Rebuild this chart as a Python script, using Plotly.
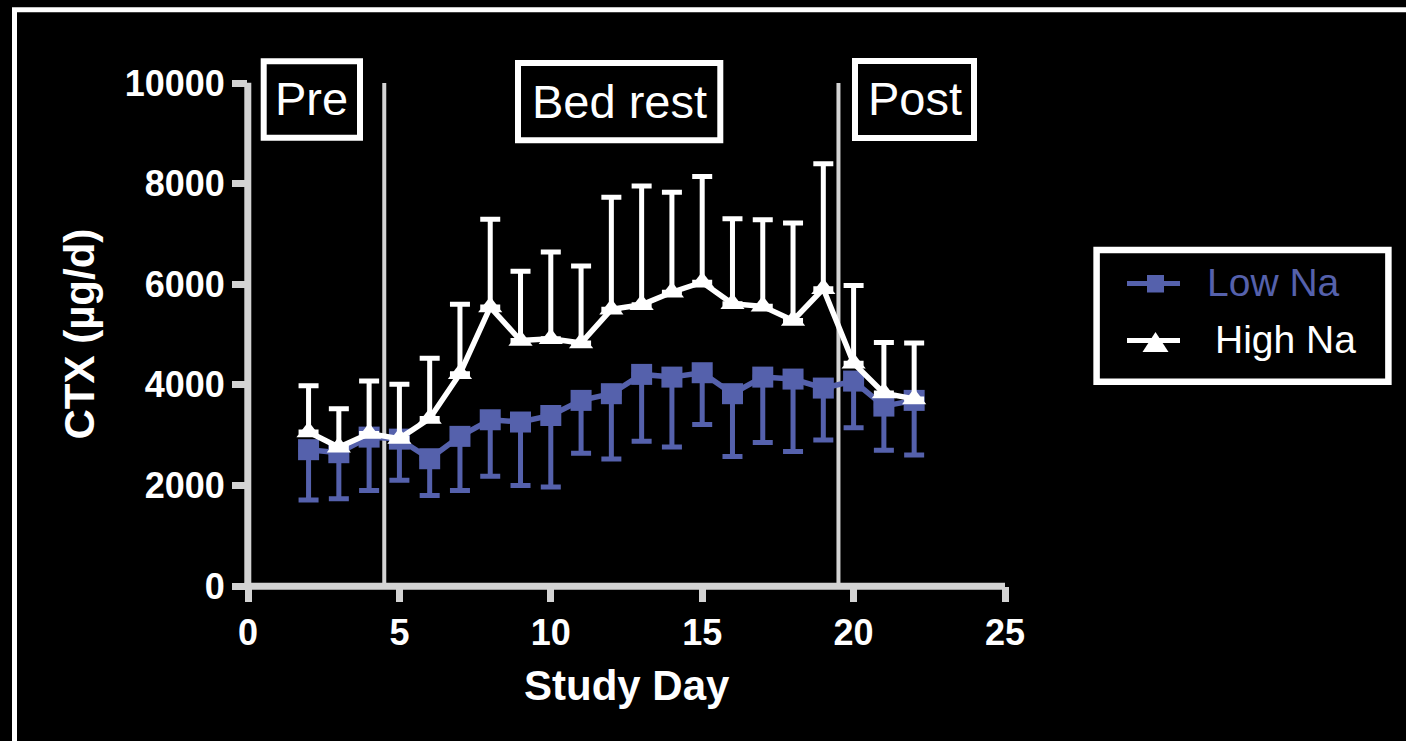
import plotly.graph_objects as go

# ---- data -------------------------------------------------------------
days = list(range(2, 23))

low_na_mean = [2710, 2650, 2960, 2920, 2530, 2975, 3305, 3260, 3390, 3690, 3823,
               4207, 4153, 4240, 3823, 4153, 4114, 3935, 4074, 3577, 3690]
low_na_sd = [1000, 915, 1060, 820, 730, 1075, 1125, 1260, 1420, 1050, 1300,
             1330, 1390, 1030, 1250, 1300, 1440, 1030, 930, 880, 1087]

high_na_mean = [3060, 2760, 3030, 2930, 3330, 4220, 5545, 4880, 4915, 4830, 5500,
                5590, 5840, 6040, 5610, 5560, 5280, 5910, 4430, 3835, 3720]
high_na_sd = [920, 765, 1045, 1080, 1200, 1380, 1745, 1375, 1725, 1530, 2230,
              2360, 1990, 2100, 1690, 1720, 1935, 2485, 1545, 1005, 1110]

x_ticks = [0, 5, 10, 15, 20, 25]
y_ticks = [0, 2000, 4000, 6000, 8000, 10000]
y_tick_labels = ["0", "2000", "4000", "6000", "8000", "10000"]
phase_bounds = [4.5, 19.5]
phase_labels = ["Pre", "Bed rest", "Post"]
series_names = ["Low Na", "High Na"]

# ---- style ------------------------------------------------------------
BLUE = "#5561AC"
WHITE = "#FFFFFF"
AXIS = "#D3D3D3"
FONT = "Liberation Sans"

W, H = 1406, 741
L, R, T, B = 248, 401, 83, 155
PW, PH = W - L - R, H - T - B


def px_x(px):
    return (px - L) / PW


def px_y(py):
    return (H - B - py) / PH


fig = go.Figure()

fig.add_trace(go.Scatter(
    x=days, y=low_na_mean, mode="lines+markers", name=series_names[0],
    line=dict(color=BLUE, width=5.5),
    marker=dict(symbol="square", size=21, color=BLUE, line=dict(width=0)),
    error_y=dict(type="data", symmetric=False, array=[0] * len(days),
                 arrayminus=low_na_sd, color=BLUE, thickness=5, width=10),
    showlegend=False, cliponaxis=False,
))
fig.add_trace(go.Scatter(
    x=days, y=high_na_mean, mode="lines+markers", name=series_names[1],
    line=dict(color=WHITE, width=5.5),
    marker=dict(symbol="triangle-up", size=21, color=WHITE, line=dict(width=0)),
    error_y=dict(type="data", symmetric=False, array=high_na_sd,
                 arrayminus=[0] * len(days), color=WHITE, thickness=5, width=10),
    showlegend=False, cliponaxis=False,
))

shapes = []
annotations = []

# outer frame
shapes.append(dict(type="rect", xref="paper", yref="paper",
                   x0=px_x(14.5), x1=px_x(1440), y0=px_y(9.8), y1=px_y(780),
                   line=dict(color=WHITE, width=5), layer="below"))

# axis lines
shapes.append(dict(type="line", xref="paper", yref="paper",
                   x0=px_x(244.3), x1=px_x(1005), y0=px_y(586.3), y1=px_y(586.3),
                   line=dict(color=AXIS, width=7), layer="below"))
shapes.append(dict(type="line", xref="paper", yref="paper",
                   x0=px_x(247.8), x1=px_x(247.8), y0=px_y(589.8), y1=px_y(82.7),
                   line=dict(color=AXIS, width=7), layer="below"))

# phase boundaries
for xb in phase_bounds:
    shapes.append(dict(type="line", xref="x", yref="y", x0=xb, x1=xb,
                       y0=0, y1=y_ticks[-1], line=dict(color=AXIS, width=4),
                       layer="below"))

# phase label boxes (left, top, right, bottom in px, line centres)
phase_boxes = [(263.7, 61.3, 360.0, 137.7),
               (518.0, 63.0, 720.3, 140.3),
               (855.0, 61.0, 974.0, 138.0)]
phase_text_y = [99.0, 101.0, 99.0]
for label, (x0, y0, x1, y1), ty in zip(phase_labels, phase_boxes, phase_text_y):
    shapes.append(dict(type="rect", xref="paper", yref="paper",
                       x0=px_x(x0), x1=px_x(x1), y0=px_y(y0), y1=px_y(y1),
                       line=dict(color=WHITE, width=6)))
    annotations.append(dict(text=label, xref="paper", yref="paper",
                            x=px_x((x0 + x1) / 2), y=px_y(ty),
                            xanchor="center", yanchor="middle", showarrow=False,
                            font=dict(family=FONT, size=47, color=WHITE)))

# legend box
shapes.append(dict(type="rect", xref="paper", yref="paper",
                   x0=px_x(1096.6), x1=px_x(1388.4), y0=px_y(250.0), y1=px_y(381.7),
                   line=dict(color=WHITE, width=6.5)))
# legend row 1: Low Na
shapes.append(dict(type="line", xref="paper", yref="paper",
                   x0=px_x(1127), x1=px_x(1180), y0=px_y(283.5), y1=px_y(283.5),
                   line=dict(color=BLUE, width=5)))
shapes.append(dict(type="rect", xref="paper", yref="paper",
                   x0=px_x(1147), x1=px_x(1164), y0=px_y(275), y1=px_y(292.5),
                   line=dict(width=0), fillcolor=BLUE))
# legend row 2: High Na
shapes.append(dict(type="line", xref="paper", yref="paper",
                   x0=px_x(1127), x1=px_x(1180), y0=px_y(340.5), y1=px_y(340.5),
                   line=dict(color=WHITE, width=5)))
tri = [(1155.5, 332.0), (1168.5, 352.0), (1142.5, 352.0)]
tri_path = "M {} {} L {} {} L {} {} Z".format(
    *[v for p in tri for v in (px_x(p[0]), px_y(p[1]))])
shapes.append(dict(type="path", xref="paper", yref="paper", path=tri_path,
                   line=dict(width=0), fillcolor=WHITE))

annotations.append(dict(text=series_names[0], xref="paper", yref="paper",
                        x=px_x(1204.5), y=px_y(282.0), xanchor="left",
                        yanchor="middle", showarrow=False,
                        font=dict(family=FONT, size=39, color=BLUE)))
annotations.append(dict(text=series_names[1], xref="paper", yref="paper",
                        x=px_x(1212.5), y=px_y(339.5), xanchor="left",
                        yanchor="middle", showarrow=False,
                        font=dict(family=FONT, size=39, color=WHITE)))

# axis titles
annotations.append(dict(text="Study Day", xref="paper", yref="paper",
                        x=0.5, y=px_y(685), xanchor="center", yanchor="middle",
                        showarrow=False,
                        font=dict(family=FONT, size=42, color=WHITE, weight="bold")))
annotations.append(dict(text="CTX (µg/d)", xref="paper", yref="paper",
                        x=px_x(79), y=0.5, xanchor="center", yanchor="middle",
                        textangle=-90, showarrow=False,
                        font=dict(family=FONT, size=42, color=WHITE, weight="bold")))

tick_font = dict(family=FONT, size=36, color=WHITE, weight="bold")

fig.update_layout(
    width=W, height=H,
    margin=dict(l=L, r=R, t=T, b=B, autoexpand=False),
    paper_bgcolor="#000000", plot_bgcolor="#000000",
    showlegend=False,
    xaxis=dict(range=[0, 25], tickvals=x_ticks, ticks="outside", ticklen=15,
               tickwidth=7, tickcolor=AXIS, showline=False, showgrid=False,
               zeroline=False, tickfont=tick_font, ticklabelstandoff=0),
    yaxis=dict(range=[0, 10000], tickvals=y_ticks, ticktext=y_tick_labels,
               ticks="outside", ticklen=15,
               tickwidth=7, tickcolor=AXIS, showline=False, showgrid=False,
               zeroline=False, tickfont=tick_font, ticklabelstandoff=0),
    shapes=shapes,
    annotations=annotations,
)

fig.write_html("out.html")
